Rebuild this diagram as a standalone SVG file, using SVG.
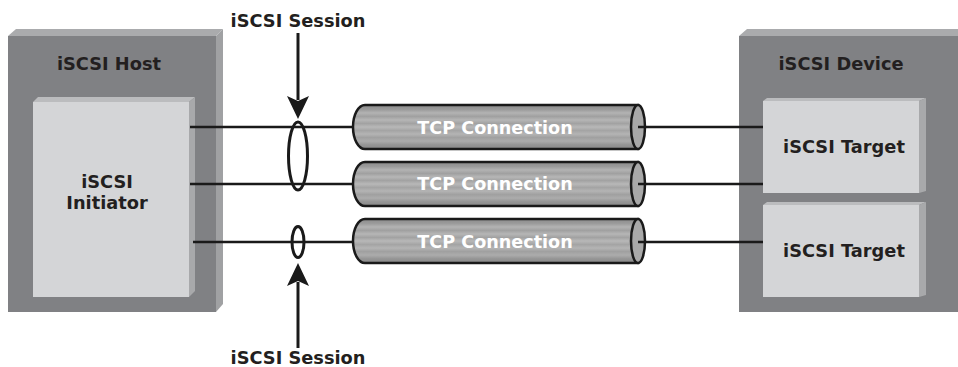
<svg xmlns="http://www.w3.org/2000/svg" width="958" height="367" viewBox="0 0 958 367">
<style>
.lbl{font-family:"DejaVu Sans","Verdana",sans-serif;font-weight:bold;font-size:17.8px;fill:#231f20;text-anchor:middle}
.tcp{font-family:"DejaVu Sans","Verdana",sans-serif;font-weight:bold;font-size:17.6px;fill:#ffffff;text-anchor:middle}
.outer{fill:#808184}
.outerTop{fill:#aaabad}
.outerSide{fill:#a0a1a3}
.inner{fill:#d4d5d7}
.innerTop{fill:#bbbcbe}
.innerSide{fill:#a8a9ab}
.wire{stroke:#1a1a1a;stroke-width:2.5;fill:none}
.ring{stroke:#1a1a1a;stroke-width:3;fill:none}
.cyl{fill:url(#stripes);stroke:#1a1a1a;stroke-width:2.5}
.cap{fill:#a9a9a9;stroke:#1a1a1a;stroke-width:2.5}
.arrow{stroke:#1a1a1a;stroke-width:3;fill:none}
.head{fill:#1a1a1a}
</style>
<defs>
<linearGradient id="stripes" x1="0" y1="0" x2="0" y2="1">
<stop offset="0" stop-color="#8c8c8c"/>
<stop offset="0.1" stop-color="#9a9a9a"/>
<stop offset="0.18" stop-color="#b3b3b3"/>
<stop offset="0.26" stop-color="#a0a0a0"/>
<stop offset="0.34" stop-color="#b6b6b6"/>
<stop offset="0.42" stop-color="#a2a2a2"/>
<stop offset="0.5" stop-color="#b8b8b8"/>
<stop offset="0.58" stop-color="#a4a4a4"/>
<stop offset="0.66" stop-color="#b4b4b4"/>
<stop offset="0.74" stop-color="#a0a0a0"/>
<stop offset="0.82" stop-color="#acacac"/>
<stop offset="0.9" stop-color="#969696"/>
<stop offset="1" stop-color="#888888"/>
</linearGradient>
</defs>

<g id="host">
<polygon class="outerTop" points="8,36 16,29 223,29 216,36"/>
<polygon class="outerSide" points="216,36 223,29 223,304 216,312"/>
<rect class="outer" x="8" y="36" width="208" height="276"/>
<text class="lbl" x="109" y="70">iSCSI Host</text>
</g>

<g id="initiator">
<polygon class="innerTop" points="33,102 38,97 195,97 189,102"/>
<polygon class="innerSide" points="189,102 195,97 195,291 189,297"/>
<rect class="inner" x="33" y="102" width="156" height="195"/>
<text class="lbl" x="107" y="188">iSCSI</text>
<text class="lbl" x="107" y="209">Initiator</text>
</g>

<g id="device">
<polygon class="outerTop" points="739,36 747,29 958,29 958,36"/>
<rect class="outer" x="739" y="36" width="219" height="276"/>
<text class="lbl" x="841" y="70">iSCSI Device</text>
</g>

<g id="target1">
<polygon class="innerTop" points="763,101 767,98 926,98 919,101"/>
<polygon class="innerSide" points="919,101 926,98 926,191 919,193"/>
<rect class="inner" x="763" y="101" width="156" height="92"/>
<text class="lbl" x="844" y="153">iSCSI Target</text>
</g>

<g id="target2">
<polygon class="innerTop" points="763,205 767,202 926,202 919,205"/>
<polygon class="innerSide" points="919,205 926,202 926,295 919,297"/>
<rect class="inner" x="763" y="205" width="156" height="92"/>
<text class="lbl" x="844" y="257">iSCSI Target</text>
</g>

<g id="connectors">
<line class="wire" x1="190" y1="127" x2="355" y2="127"/>
<line class="wire" x1="190" y1="184" x2="355" y2="184"/>
<line class="wire" x1="193" y1="242" x2="355" y2="242"/>
<line class="wire" x1="638" y1="127" x2="763" y2="127"/>
<line class="wire" x1="638" y1="184" x2="763" y2="184"/>
<line class="wire" x1="638" y1="242" x2="763" y2="242"/>
<ellipse class="ring" cx="298" cy="156" rx="9.5" ry="34"/>
<ellipse class="ring" cx="298" cy="242" rx="6" ry="15.5"/>
<line class="arrow" x1="298" y1="33" x2="298" y2="100"/>
<path class="head" d="M287,96 L298,101 L309,96 L298,119 Z"/>
<line class="arrow" x1="298" y1="282" x2="298" y2="348"/>
<path class="head" d="M287,286 L298,281 L309,286 L298,263 Z"/>
</g>

<g id="tcp1">
<path class="cyl" d="M365,105 L638,105 L638,149 L365,149 A12,22 0 0 1 365,105 Z"/>
<ellipse class="cap" cx="638" cy="127" rx="7" ry="22"/>
<line class="wire" x1="638" y1="127" x2="646" y2="127"/>
<text class="tcp" x="495" y="134">TCP Connection</text>
</g>

<g id="tcp2">
<path class="cyl" d="M365,162 L638,162 L638,206 L365,206 A12,22 0 0 1 365,162 Z"/>
<ellipse class="cap" cx="638" cy="184" rx="7" ry="22"/>
<line class="wire" x1="638" y1="184" x2="646" y2="184"/>
<text class="tcp" x="495" y="190">TCP Connection</text>
</g>

<g id="tcp3">
<path class="cyl" d="M365,219 L638,219 L638,263 L365,263 A12,22 0 0 1 365,219 Z"/>
<ellipse class="cap" cx="638" cy="241" rx="7" ry="22"/>
<line class="wire" x1="638" y1="242" x2="646" y2="242"/>
<text class="tcp" x="495" y="248">TCP Connection</text>
</g>

<g id="session-labels">
<text class="lbl" x="298" y="27">iSCSI Session</text>
<text class="lbl" x="298" y="364">iSCSI Session</text>
</g>
</svg>
